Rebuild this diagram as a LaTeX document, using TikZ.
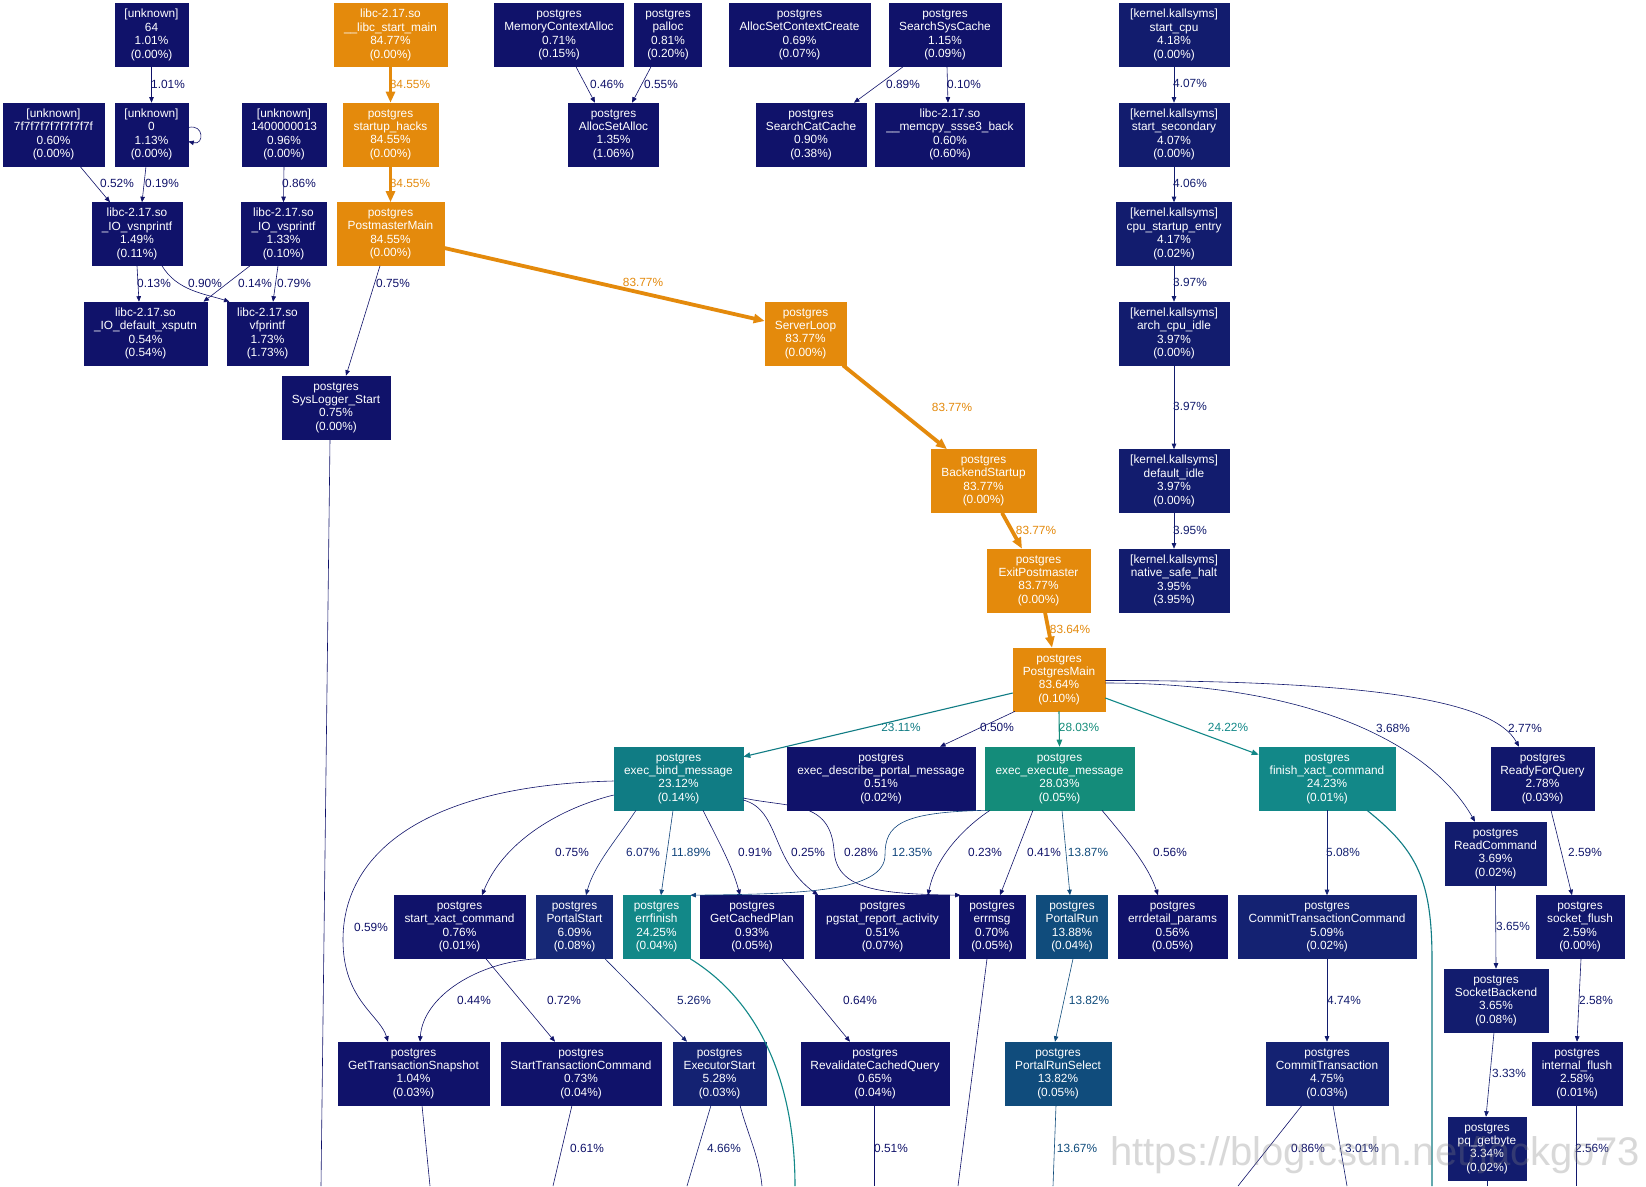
\documentclass[tikz,border=0pt]{standalone}
\usepackage{fontspec}
\setmainfont{Liberation Sans}
\usetikzlibrary{arrows.meta}
\definecolor{nv0}{RGB}{16,18,106}
\definecolor{nv2}{RGB}{17,23,108}
\definecolor{nv3}{RGB}{18,28,110}
\definecolor{nv5}{RGB}{20,34,114}
\definecolor{nv6}{RGB}{22,40,118}
\definecolor{tb12}{RGB}{16,68,124}
\definecolor{tb14}{RGB}{16,76,124}
\definecolor{tl23}{RGB}{16,124,132}
\definecolor{tl24}{RGB}{18,136,136}
\definecolor{tl28}{RGB}{20,140,122}
\definecolor{orng}{RGB}{228,138,12}
\newcommand{\nfont}{\fontsize{11.85}{13.4}\selectfont}
\tikzset{
  gbox/.style={rectangle, draw=#1, fill=#1, text=white, line width=0.6pt, minimum height=63pt, inner xsep=2pt, inner ysep=0pt, align=center, font=\nfont},
  lab/.style={font=\nfont, inner sep=0pt, text=#1},
  edg/.style={draw=#1, line width=0.6pt, -{Triangle[length=5.5pt,width=4.5pt]}},
  tedg/.style={draw=#1, line width=1.1pt, -{Triangle[length=7pt,width=5.5pt]}},
  oedg/.style={draw=orng, line width=3.8pt, -{Triangle[length=11pt,width=9pt]}},
  fedg/.style={draw=#1, line width=0.6pt},
}
\begin{document}
\begin{tikzpicture}[x=1pt,y=-1pt]
\fill[white] (0,0) rectangle (1646,1186);
\useasboundingbox (0,0) rectangle (1646,1186);

% ---------- nodes ----------
\node[gbox=nv0, minimum width=73pt] (u64) at (151.5,35) {[unknown]\\64\\1.01\%\\(0.00\%)};
\node[gbox=orng, minimum width=113pt] (startmain) at (390.5,35) {libc-2.17.so\\\_\_libc\_start\_main\\84.77\%\\(0.00\%)};
\node[gbox=nv0, minimum width=129pt] (mca) at (559,35) {postgres\\MemoryContextAlloc\\0.71\%\\(0.15\%)};
\node[gbox=nv0, minimum width=67pt] (palloc) at (668,35) {postgres\\palloc\\0.81\%\\(0.20\%)};
\node[gbox=nv0, minimum width=141pt] (ascc) at (799.5,35) {postgres\\AllocSetContextCreate\\0.69\%\\(0.07\%)};
\node[gbox=nv0, minimum width=112pt] (ssc) at (945,35) {postgres\\SearchSysCache\\1.15\%\\(0.09\%)};
\node[gbox=nv3, minimum width=110pt] (startcpu) at (1174,35) {[kernel.kallsyms]\\start\_cpu\\4.18\%\\(0.00\%)};

\node[gbox=nv0, minimum width=101pt] (u7f) at (53.5,134.5) {[unknown]\\7f7f7f7f7f7f7f7f\\0.60\%\\(0.00\%)};
\node[gbox=nv0, minimum width=73pt] (u0) at (151.5,134.5) {[unknown]\\0\\1.13\%\\(0.00\%)};
\node[gbox=nv0, minimum width=84pt] (u14) at (284,134.5) {[unknown]\\1400000013\\0.96\%\\(0.00\%)};
\node[gbox=orng, minimum width=95pt] (sh) at (390.5,134.5) {postgres\\startup\_hacks\\84.55\%\\(0.00\%)};
\node[gbox=nv0, minimum width=90pt] (asa) at (613.5,134.5) {postgres\\AllocSetAlloc\\1.35\%\\(1.06\%)};
\node[gbox=nv0, minimum width=110pt] (scc) at (811,134.5) {postgres\\SearchCatCache\\0.90\%\\(0.38\%)};
\node[gbox=nv0, minimum width=149pt] (memcpy) at (950,134.5) {libc-2.17.so\\\_\_memcpy\_ssse3\_back\\0.60\%\\(0.60\%)};
\node[gbox=nv3, minimum width=110pt] (ssec) at (1174,134.5) {[kernel.kallsyms]\\start\_secondary\\4.07\%\\(0.00\%)};

\node[gbox=nv0, minimum width=90pt] (vsn) at (137,234) {libc-2.17.so\\\_IO\_vsnprintf\\1.49\%\\(0.11\%)};
\node[gbox=nv0, minimum width=85pt] (vs) at (283.5,234) {libc-2.17.so\\\_IO\_vsprintf\\1.33\%\\(0.10\%)};
\node[gbox=orng, minimum width=107pt] (pmm) at (390.5,234) {postgres\\PostmasterMain\\84.55\%\\(0.00\%)};
\node[gbox=nv3, minimum width=115pt] (cse) at (1174,234) {[kernel.kallsyms]\\cpu\_startup\_entry\\4.17\%\\(0.02\%)};

\node[gbox=nv0, minimum width=123pt] (xsputn) at (145.5,333.5) {libc-2.17.so\\\_IO\_default\_xsputn\\0.54\%\\(0.54\%)};
\node[gbox=nv0, minimum width=81pt] (vfp) at (267.5,333.5) {libc-2.17.so\\vfprintf\\1.73\%\\(1.73\%)};
\node[gbox=orng, minimum width=81pt] (sl) at (805.5,333.5) {postgres\\ServerLoop\\83.77\%\\(0.00\%)};
\node[gbox=nv3, minimum width=110pt] (aci) at (1174,333.5) {[kernel.kallsyms]\\arch\_cpu\_idle\\3.97\%\\(0.00\%)};

\node[gbox=nv0, minimum width=108pt] (syslog) at (336,407.5) {postgres\\SysLogger\_Start\\0.75\%\\(0.00\%)};

\node[gbox=orng, minimum width=105pt] (bs) at (983.5,481) {postgres\\BackendStartup\\83.77\%\\(0.00\%)};
\node[gbox=nv3, minimum width=110pt] (di) at (1174,481) {[kernel.kallsyms]\\default\_idle\\3.97\%\\(0.00\%)};

\node[gbox=orng, minimum width=103pt] (ep) at (1038.5,580.5) {postgres\\ExitPostmaster\\83.77\%\\(0.00\%)};
\node[gbox=nv3, minimum width=110pt] (nsh) at (1174,580.5) {[kernel.kallsyms]\\native\_safe\_halt\\3.95\%\\(3.95\%)};

\node[gbox=orng, minimum width=92pt] (pgm) at (1059,679.5) {postgres\\PostgresMain\\83.64\%\\(0.10\%)};

\node[gbox=tl23, minimum width=129pt] (ebm) at (678.5,778.5) {postgres\\exec\_bind\_message\\23.12\%\\(0.14\%)};
\node[gbox=nv0, minimum width=188pt] (edpm) at (881,778.5) {postgres\\exec\_describe\_portal\_message\\0.51\%\\(0.02\%)};
\node[gbox=tl28, minimum width=149pt] (eem) at (1059.5,778.5) {postgres\\exec\_execute\_message\\28.03\%\\(0.05\%)};
\node[gbox=tl24, minimum width=136pt] (fxc) at (1327,778.5) {postgres\\finish\_xact\_command\\24.23\%\\(0.01\%)};
\node[gbox=nv2, minimum width=103pt] (rfq) at (1542.5,778.5) {postgres\\ReadyForQuery\\2.78\%\\(0.03\%)};

\node[gbox=nv3, minimum width=101pt] (rc) at (1495.5,853.5) {postgres\\ReadCommand\\3.69\%\\(0.02\%)};

\node[gbox=nv0, minimum width=131pt] (sxc) at (459.5,927) {postgres\\start\_xact\_command\\0.76\%\\(0.01\%)};
\node[gbox=nv6, minimum width=76pt] (ps) at (574.5,927) {postgres\\PortalStart\\6.09\%\\(0.08\%)};
\node[gbox=tl24, minimum width=67pt] (ef) at (656.5,927) {postgres\\errfinish\\24.25\%\\(0.04\%)};
\node[gbox=nv0, minimum width=103pt] (gcp) at (752,927) {postgres\\GetCachedPlan\\0.93\%\\(0.05\%)};
\node[gbox=nv0, minimum width=134pt] (pra) at (882.5,927) {postgres\\pgstat\_report\_activity\\0.51\%\\(0.07\%)};
\node[gbox=nv0, minimum width=66pt] (em) at (992,927) {postgres\\errmsg\\0.70\%\\(0.05\%)};
\node[gbox=tb14, minimum width=71pt] (pr) at (1072,927) {postgres\\PortalRun\\13.88\%\\(0.04\%)};
\node[gbox=nv0, minimum width=109pt] (edp) at (1172.5,927) {postgres\\errdetail\_params\\0.56\%\\(0.05\%)};
\node[gbox=nv5, minimum width=178pt] (ctc) at (1327,927) {postgres\\CommitTransactionCommand\\5.09\%\\(0.02\%)};
\node[gbox=nv2, minimum width=88pt] (sf) at (1580,927) {postgres\\socket\_flush\\2.59\%\\(0.00\%)};

\node[gbox=nv3, minimum width=104pt] (sb) at (1496,1000.5) {postgres\\SocketBackend\\3.65\%\\(0.08\%)};

\node[gbox=nv0, minimum width=151pt] (gts) at (413.5,1073.5) {postgres\\GetTransactionSnapshot\\1.04\%\\(0.03\%)};
\node[gbox=nv0, minimum width=160pt] (stc) at (581,1073.5) {postgres\\StartTransactionCommand\\0.73\%\\(0.04\%)};
\node[gbox=nv5, minimum width=93pt] (es) at (719.5,1073.5) {postgres\\ExecutorStart\\5.28\%\\(0.03\%)};
\node[gbox=nv0, minimum width=148pt] (rcq) at (875,1073.5) {postgres\\RevalidateCachedQuery\\0.65\%\\(0.04\%)};
\node[gbox=tb14, minimum width=106pt] (prs) at (1058,1073.5) {postgres\\PortalRunSelect\\13.82\%\\(0.05\%)};
\node[gbox=nv5, minimum width=122pt] (ct) at (1327,1073.5) {postgres\\CommitTransaction\\4.75\%\\(0.03\%)};
\node[gbox=nv2, minimum width=90pt] (ifl) at (1577,1073.5) {postgres\\internal\_flush\\2.58\%\\(0.01\%)};

\node[gbox=nv3, minimum width=78pt] (pqg) at (1487,1148.5) {postgres\\pq\_getbyte\\3.34\%\\(0.02\%)};

% free ends at the bottom border
\coordinate (slend) at (321,1186);
\coordinate (fxcend) at (1432,1186);
\coordinate (efend) at (795,1186);
\coordinate (emend) at (958,1186);
\coordinate (gtsend) at (430,1186);
\coordinate (stcend) at (553,1186);
\coordinate (esend1) at (687,1186);
\coordinate (esend2) at (762,1186);
\coordinate (rcqend) at (874,1186);
\coordinate (prsend) at (1053,1186);
\coordinate (ctend1) at (1238,1186);
\coordinate (ctend2) at (1347,1186);
\coordinate (iflend) at (1576,1186);
\coordinate (pqgend) at (1487,1186);

% ---------- labels ----------
\node[lab=nv0] (la1) at (168,84) {1.01\%};
\node[lab=orng] (la2) at (410,84) {84.55\%};
\node[lab=nv0] (la3) at (117,183) {0.52\%};
\node[lab=nv0] (la4) at (162,183) {0.19\%};
\node[lab=nv0] (la5) at (299,183) {0.86\%};
\node[lab=orng] (la6) at (410,183) {84.55\%};
\node[lab=nv0] (la7) at (154,283) {0.13\%};
\node[lab=nv0] (la8) at (205,283) {0.90\%};
\node[lab=nv0] (la9) at (255,283) {0.14\%};
\node[lab=nv0] (la10) at (294,283) {0.79\%};
\node[lab=nv0] (la11) at (393,283) {0.75\%};
\node[lab=nv0] (la12) at (607,84) {0.46\%};
\node[lab=nv0] (la13) at (661,84) {0.55\%};
\node[lab=nv0] (la14) at (903,84) {0.89\%};
\node[lab=nv0] (la15) at (964,84) {0.10\%};
\node[lab=nv3] (la16) at (1190,83) {4.07\%};
\node[lab=nv3] (la17) at (1190,183) {4.06\%};
\node[lab=nv3] (la18) at (1190,282) {3.97\%};
\node[lab=nv3] (la19) at (1190,406) {3.97\%};
\node[lab=nv3] (la20) at (1190,530) {3.95\%};
\node[lab=orng] (la21) at (643,282) {83.77\%};
\node[lab=orng] (la22) at (952,407) {83.77\%};
\node[lab=orng] (la23) at (1036,530) {83.77\%};
\node[lab=orng] (la24) at (1070,629) {83.64\%};
\node[lab=tl23] (la25) at (901,727) {23.11\%};
\node[lab=nv0] (la26) at (997,727) {0.50\%};
\node[lab=tl28] (la27) at (1079,727) {28.03\%};
\node[lab=tl24] (la28) at (1228,727) {24.22\%};
\node[lab=nv3] (la29) at (1393,728) {3.68\%};
\node[lab=nv2] (la30) at (1525,728) {2.77\%};
\node[lab=nv0] (la31) at (572,852) {0.75\%};
\node[lab=nv6] (la32) at (643,852) {6.07\%};
\node[lab=tb12] (la33) at (691,852) {11.89\%};
\node[lab=nv0] (la34) at (755,852) {0.91\%};
\node[lab=nv0] (la35) at (808,852) {0.25\%};
\node[lab=nv0] (la36) at (861,852) {0.28\%};
\node[lab=tb12] (la37) at (912,852) {12.35\%};
\node[lab=nv0] (la38) at (985,852) {0.23\%};
\node[lab=nv0] (la39) at (1044,852) {0.41\%};
\node[lab=tb14] (la40) at (1088,852) {13.87\%};
\node[lab=nv0] (la41) at (1170,852) {0.56\%};
\node[lab=nv5] (la42) at (1343,852) {5.08\%};
\node[lab=nv2] (la43) at (1585,852) {2.59\%};
\node[lab=nv0] (la44) at (371,927) {0.59\%};
\node[lab=nv3] (la45) at (1513,926) {3.65\%};
\node[lab=nv0] (la46) at (474,1000) {0.44\%};
\node[lab=nv0] (la47) at (564,1000) {0.72\%};
\node[lab=nv5] (la48) at (694,1000) {5.26\%};
\node[lab=nv0] (la49) at (860,1000) {0.64\%};
\node[lab=tb14] (la50) at (1089,1000) {13.82\%};
\node[lab=nv3] (la51) at (1344,1000) {4.74\%};
\node[lab=nv2] (la52) at (1596,1000) {2.58\%};
\node[lab=nv3] (la53) at (1509,1073) {3.33\%};
\node[lab=nv0] (la54) at (587,1148) {0.61\%};
\node[lab=nv3] (la55) at (724,1148) {4.66\%};
\node[lab=nv0] (la56) at (891,1148) {0.51\%};
\node[lab=tb14] (la57) at (1077,1148) {13.67\%};
\node[lab=nv0] (la58) at (1308,1148) {0.86\%};
\node[lab=nv3] (la59) at (1362,1148) {3.01\%};
\node[lab=nv2] (la60) at (1592,1148) {2.56\%};

% ---------- edges ----------
\draw[edg=nv0] (u64.south) -- (u0.north);
\draw[oedg] (startmain.south) -- (sh.north);
\draw[oedg] (sh.south) -- (pmm.north);
\draw[edg=nv0] ([xshift=26.5pt]u7f.south) -- ([xshift=-27pt]vsn.north);
\draw[edg=nv0] ([xshift=-5.5pt]u0.south) -- ([xshift=5pt]vsn.north);
\draw[edg=nv0] ([yshift=7pt]u0.east) .. controls +(16,-4) and +(16,4) .. ([yshift=-7pt]u0.east);
\draw[edg=nv0] (u14.south) -- (vs.north);
\draw[edg=nv0] (vsn.south) -- ([xshift=-6.5pt]xsputn.north);
\draw[edg=nv0] ([xshift=25pt]vsn.south) .. controls +(15,25) and +(-25,-8) .. ([xshift=-38pt]vfp.north);
\draw[edg=nv0] ([xshift=-33.5pt]vs.south) -- ([xshift=58pt]xsputn.north);
\draw[edg=nv0] ([xshift=-5.5pt]vs.south) -- ([xshift=5.5pt]vfp.north);
\draw[edg=nv0] ([xshift=-10.5pt]pmm.south) -- ([xshift=10pt]syslog.north);
\draw[edg=nv0] ([xshift=17pt]mca.south) -- ([xshift=-18.5pt]asa.north);
\draw[edg=nv0] ([xshift=-17pt]palloc.south) -- ([xshift=18.5pt]asa.north);
\draw[edg=nv0] ([xshift=-42pt]ssc.south) -- ([xshift=43pt]scc.north);
\draw[edg=nv0] ([xshift=2pt]ssc.south) -- ([xshift=-2pt]memcpy.north);
\draw[edg=nv3] (startcpu.south) -- (ssec.north);
\draw[edg=nv3] (ssec.south) -- (cse.north);
\draw[edg=nv3] (cse.south) -- (aci.north);
\draw[edg=nv3] (aci.south) -- (di.north);
\draw[edg=nv3] (di.south) -- (nsh.north);
\draw[oedg] ([yshift=-14pt]pmm.east) -- ([yshift=12.5pt]sl.west);
\draw[oedg] ([xshift=37.5pt]sl.south) -- ([xshift=-36.5pt]bs.north);
\draw[oedg] ([xshift=18.5pt]bs.south) -- ([xshift=-16.5pt]ep.north);
\draw[oedg] ([xshift=6.5pt]ep.south) -- ([xshift=-7pt]pgm.north);
% PostgresMain
\draw[tedg=tl23] ([yshift=-13.5pt]pgm.west) -- ([yshift=-10pt]ebm.north east);
\draw[edg=nv0] ([xshift=-44pt]pgm.south) -- ([xshift=59pt]edpm.north);
\draw[tedg=tl28] (pgm.south) -- (eem.north);
\draw[tedg=tl24] ([yshift=-18.5pt]pgm.east) -- ([yshift=-8pt]fxc.north west);
\draw[edg=nv3] ([yshift=-3.5pt]pgm.east) .. controls +(220,0) and +(-40,-70) .. ([xshift=-20.5pt]rc.north);
\draw[edg=nv2] ([yshift=-1pt]pgm.east) .. controls +(275,0) and +(-25,-45) .. ([xshift=-23.5pt]rfq.north);
% exec_bind_message
\draw[edg=nv0] ([yshift=-16.5pt]ebm.west) .. controls +(-60,15) and +(20,-50) .. ([xshift=22.5pt]sxc.north);
\draw[edg=nv6] ([xshift=-42.5pt]ebm.south) .. controls +(-20,30) and +(8,-30) .. ([xshift=11.5pt]ps.north);
\draw[edg=tb12] ([xshift=-5.5pt]ebm.south) -- ([xshift=4.5pt]ef.north);
\draw[edg=nv0] ([xshift=24.5pt]ebm.south) .. controls +(15,30) and +(-8,-30) .. ([xshift=-12pt]gcp.north);
\draw[edg=nv0] ([yshift=-2.5pt]ebm.west) .. controls (430,785) and (343,850) .. (343,940) .. controls (343,1000) and (380,1015) .. ([xshift=-25.5pt]gts.north);
\draw[edg=nv0] ([yshift=-21.5pt]ebm.east) .. controls +(37,10) and +(-48,-35) .. ([xshift=3pt]pra.north west);
\draw[edg=nv0] ([yshift=-19.5pt]ebm.east) .. controls (790,808) and (830,800) .. (834,850) .. controls (836,890) and (880,894) .. ([xshift=2pt]em.north west);
% exec_execute_message
\draw[edg=tb12] ([xshift=2pt]eem.south west) .. controls (900,812) and (885,825) .. (885,855) .. controls (885,892) and (800,894) .. (ef.north east);
\draw[edg=nv0] ([xshift=-69.5pt]eem.south) .. controls +(-30,20) and +(7,-35) .. ([xshift=45.5pt]pra.north);
\draw[edg=nv0] ([xshift=-26.5pt]eem.south) -- ([xshift=8pt]em.north);
\draw[edg=tb14] ([xshift=2.5pt]eem.south) -- ([xshift=-2pt]pr.north);
\draw[edg=nv0] ([xshift=42.5pt]eem.south) .. controls +(25,30) and +(-10,-30) .. ([xshift=-14.5pt]edp.north);
% finish_xact_command and right side
\draw[edg=nv5] (fxc.south) -- (ctc.north);
\draw[tl23, line width=1.1pt] ([xshift=40pt]fxc.south) .. controls +(50,40) and +(0,-80) .. (1432,960) -- (fxcend);
\draw[edg=nv2] ([xshift=8.5pt]rfq.south) -- ([xshift=-8pt]sf.north);
\draw[edg=nv3] (rc.south) -- (sb.north);
% lower rows
\draw[edg=nv0] ([xshift=1pt]ps.south west) .. controls +(-60,3) and +(3,-45) .. ([xshift=6.5pt]gts.north);
\draw[edg=nv0] ([xshift=26.5pt]sxc.south) -- ([xshift=-26pt]stc.north);
\draw[edg=nv5] ([xshift=30.5pt]ps.south) -- ([xshift=-32.5pt]es.north);
\draw[tl24, line width=1.1pt] (ef.south east) .. controls +(65,40) and +(0,-110) .. (efend);
\draw[edg=nv0] ([xshift=30pt]gcp.south) -- ([xshift=-25pt]rcq.north);
\draw[fedg=nv0] ([xshift=-5pt]em.south) -- (emend);
\draw[edg=tb14] ([xshift=1pt]pr.south) -- ([xshift=-3pt]prs.north);
\draw[edg=nv3] (ctc.south) -- (ct.north);
\draw[edg=nv2] ([xshift=1pt]sf.south) -- (ifl.north);
\draw[edg=nv3] ([xshift=-2pt]sb.south) -- ([xshift=-1pt]pqg.north);
\draw[fedg=nv0] ([xshift=-6pt]syslog.south) -- (slend);
\draw[fedg=nv0] ([xshift=8.5pt]gts.south) -- (gtsend);
\draw[fedg=nv0] ([xshift=-9pt]stc.south) -- (stcend);
\draw[fedg=nv3] ([xshift=-8.5pt]es.south) -- (esend1);
\draw[fedg=nv0] ([xshift=20.5pt]es.south) .. controls +(8,30) and +(-3,-30) .. (esend2);
\draw[fedg=nv0] ([xshift=-1pt]rcq.south) -- (rcqend);
\draw[fedg=tb14] ([xshift=-2pt]prs.south) -- (prsend);
\draw[fedg=nv0] ([xshift=-25pt]ct.south) -- (ctend1);
\draw[fedg=nv3] ([xshift=6pt]ct.south) -- (ctend2);
\draw[fedg=nv2] ([xshift=-1pt]ifl.south) -- (iflend);
\draw[fedg=nv3] (pqg.south) -- (pqgend);

% watermark
\node[font=\fontsize{40}{40}\selectfont, text=gray, opacity=0.3, inner sep=0pt] (wm) at (1375,1155) {https://blog.csdn.net/jackgo73};
\end{tikzpicture}
\end{document}
